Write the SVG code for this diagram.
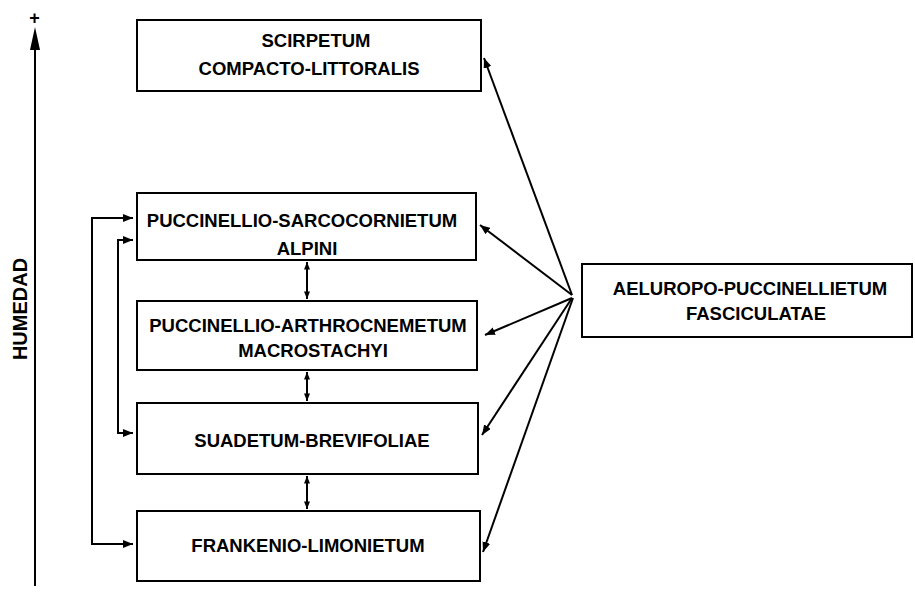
<svg xmlns="http://www.w3.org/2000/svg" width="915" height="595" viewBox="0 0 915 595">
<defs>
<marker id="ah" viewBox="0 0 10 8" refX="10" refY="4" markerUnits="userSpaceOnUse" markerWidth="10" markerHeight="8" orient="auto-start-reverse">
<path d="M0,0 L10,4 L0,8 Z" fill="#000"/>
</marker>
<marker id="ahs" viewBox="0 0 10 8" refX="10" refY="4" markerUnits="userSpaceOnUse" markerWidth="8" markerHeight="6" orient="auto-start-reverse">
<path d="M0,0 L10,4 L0,8 Z" fill="#000"/>
</marker>
</defs>
<style>
.box{fill:#fff;stroke:#000;stroke-width:2}
.t{font-family:"Liberation Sans",Arial,sans-serif;font-weight:bold;font-size:18.5px;fill:#000;text-anchor:middle}
.c{fill:none;stroke:#000;stroke-width:2}
</style>
<rect width="915" height="595" fill="#fff"/>
<g id="axis">
<line x1="35" y1="586" x2="35" y2="44" class="c"/>
<path d="M35,27 L30,50 L40,50 Z" fill="#000"/>
<text x="34.5" y="23.5" class="t" style="font-size:18px">+</text>
<text class="t" style="font-size:20px" transform="translate(27,309) rotate(-90)">HUMEDAD</text>
</g>
<g id="n1">
<rect class="box" x="137" y="20" width="344" height="71"/>
<text class="t" x="316" y="47">SCIRPETUM</text>
<text class="t" x="309" y="75">COMPACTO-LITTORALIS</text>
</g>
<g id="n2">
<rect class="box" x="137" y="193" width="339" height="67"/>
<text class="t" x="302" y="227">PUCCINELLIO-SARCOCORNIETUM</text>
<text class="t" x="307" y="255">ALPINI</text>
</g>
<g id="n3">
<rect class="box" x="137" y="301" width="340" height="69"/>
<text class="t" x="308" y="332">PUCCINELLIO-ARTHROCNEMETUM</text>
<text class="t" x="313" y="357">MACROSTACHYI</text>
</g>
<g id="n4">
<rect class="box" x="137" y="403" width="341" height="71"/>
<text class="t" x="312" y="447">SUADETUM-BREVIFOLIAE</text>
</g>
<g id="n5">
<rect class="box" x="137" y="511" width="343" height="70"/>
<text class="t" x="308" y="552">FRANKENIO-LIMONIETUM</text>
</g>
<g id="n6">
<rect class="box" x="582" y="264" width="330" height="73"/>
<text class="t" x="750" y="295">AELUROPO-PUCCINELLIETUM</text>
<text class="t" x="756" y="320">FASCICULATAE</text>
</g>
<g id="connectors">
<line class="c" x1="572" y1="295" x2="484" y2="58" marker-end="url(#ah)"/>
<line class="c" x1="572" y1="295" x2="480" y2="225" marker-end="url(#ah)"/>
<line class="c" x1="572" y1="298" x2="485" y2="335" marker-end="url(#ah)"/>
<line class="c" x1="572" y1="298" x2="482" y2="435" marker-end="url(#ah)"/>
<line class="c" x1="573" y1="298" x2="483" y2="552" marker-end="url(#ah)"/>
<path class="c" d="M133,218 H92 V544 H133" marker-start="url(#ah)" marker-end="url(#ah)"/>
<path class="c" d="M133,240 H118 V433 H133" marker-start="url(#ah)" marker-end="url(#ah)"/>
<line class="c" x1="307" y1="262" x2="307" y2="299" marker-start="url(#ahs)" marker-end="url(#ahs)"/>
<line class="c" x1="307" y1="372" x2="307" y2="401" marker-start="url(#ahs)" marker-end="url(#ahs)"/>
<line class="c" x1="307" y1="476" x2="307" y2="509" marker-start="url(#ahs)" marker-end="url(#ahs)"/>
</g>
</svg>
